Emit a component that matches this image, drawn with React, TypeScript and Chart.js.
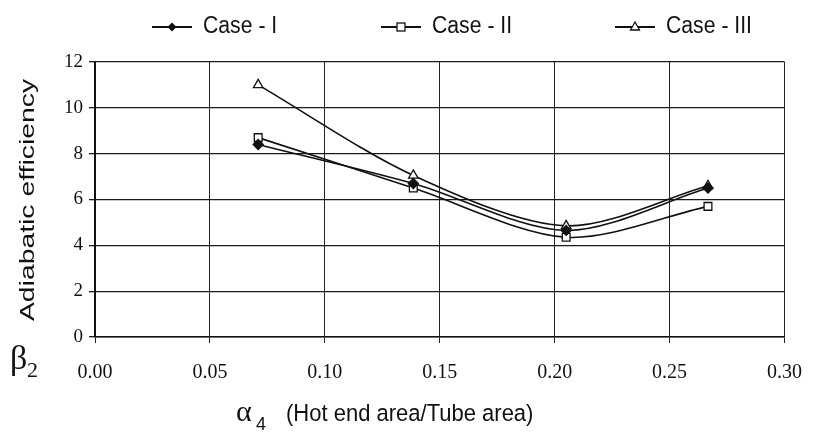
import React, { useEffect, useRef } from "react";
import { Chart, registerables } from "chart.js";

Chart.register(...registerables);

const alphaValues = [0.071, 0.1385, 0.205, 0.2667];
const caseI = [8.4, 6.7, 4.65, 6.5];
const caseII = [8.7, 6.5, 4.35, 5.7];
const caseIII = [11.0, 7.05, 4.85, 6.6];
const seriesNames = ["Case - I", "Case - II", "Case - III"];
const yTitle = "Adiabatic efficiency";
const xTitle = "(Hot end area/Tube area)";

const toPoints = (ys: number[]) => alphaValues.map((x, i) => ({ x, y: ys[i] }));

const decorPlugin = {
  id: "decor",
  afterDraw(chart: any) {
    const ctx = chart.ctx as CanvasRenderingContext2D;
    ctx.save();
    ctx.fillStyle = "#111";
    ctx.strokeStyle = "#111";
    // legend
    const legendX = [152, 381, 615];
    const ly = 27;
    chart.data.datasets.forEach((ds: any, i: number) => {
      const x0 = legendX[i];
      ctx.lineWidth = 1.8;
      ctx.beginPath();
      ctx.moveTo(x0, ly);
      ctx.lineTo(x0 + 40, ly);
      ctx.stroke();
      const cx = x0 + 20;
      ctx.lineWidth = 1.3;
      if (ds.pointStyle === "rectRot") {
        ctx.beginPath();
        ctx.moveTo(cx, ly - 4.5);
        ctx.lineTo(cx + 4.5, ly);
        ctx.lineTo(cx, ly + 4.5);
        ctx.lineTo(cx - 4.5, ly);
        ctx.closePath();
        ctx.fill();
      } else if (ds.pointStyle === "rect") {
        ctx.fillStyle = "#fff";
        ctx.fillRect(cx - 4, ly - 4, 8, 8);
        ctx.strokeRect(cx - 4, ly - 4, 8, 8);
        ctx.fillStyle = "#111";
      } else {
        ctx.fillStyle = "#fff";
        ctx.beginPath();
        ctx.moveTo(cx, ly - 5);
        ctx.lineTo(cx + 4.5, ly + 3);
        ctx.lineTo(cx - 4.5, ly + 3);
        ctx.closePath();
        ctx.fill();
        ctx.stroke();
        ctx.fillStyle = "#111";
      }
      ctx.font = "20px 'Liberation Sans', Arial, sans-serif";
      ctx.textBaseline = "middle";
      ctx.textAlign = "left";
      ctx.save();
      ctx.translate(x0 + 51, ly);
      ctx.scale(1.06, 1.15);
      ctx.fillText(ds.label, 0, 0);
      ctx.restore();
    });
    // y title
    ctx.save();
    ctx.translate(28, 200);
    ctx.rotate(-Math.PI / 2);
    ctx.scale(1.35, 1);
    ctx.font = "21px 'Liberation Sans', Arial, sans-serif";
    ctx.textAlign = "center";
    ctx.textBaseline = "middle";
    ctx.fillText(yTitle, 0, 0);
    ctx.restore();
    // beta_2
    ctx.textAlign = "left";
    ctx.textBaseline = "alphabetic";
    ctx.font = "34px 'Liberation Serif', 'Times New Roman', serif";
    ctx.fillText("β", 10, 369);
    ctx.font = "22px 'Liberation Serif', 'Times New Roman', serif";
    ctx.fillText("2", 27, 377);
    // alpha_4 and x title
    ctx.font = "30px 'Liberation Serif', 'Times New Roman', serif";
    ctx.fillText("α", 236, 421);
    ctx.font = "18px 'Liberation Sans', Arial, sans-serif";
    ctx.fillText("4", 256, 430);
    ctx.font = "22px 'Liberation Sans', Arial, sans-serif";
    ctx.save();
    ctx.translate(286, 421);
    ctx.scale(1.0, 1.08);
    ctx.fillText(xTitle, 0, 0);
    ctx.restore();
    ctx.restore();
  },
};

export default function App() {
  const ref = useRef<HTMLCanvasElement | null>(null);
  useEffect(() => {
    if (!ref.current) return;
    const common = {
      borderColor: "#111",
      borderWidth: 1.6,
      pointBorderColor: "#111",
      pointBorderWidth: 1.3,
      tension: 0.3,
      fill: false,
    };
    const chart = new Chart(ref.current, {
      type: "line",
      data: {
        datasets: [
          {
            ...common,
            label: seriesNames[0],
            data: toPoints(caseI),
            pointStyle: "rectRot",
            pointRadius: 5,
            pointBackgroundColor: "#111",
          },
          {
            ...common,
            label: seriesNames[1],
            data: toPoints(caseII),
            pointStyle: "rect",
            pointRadius: 5.5,
            pointBackgroundColor: "#fff",
          },
          {
            ...common,
            label: seriesNames[2],
            data: toPoints(caseIII),
            pointStyle: "triangle",
            pointRadius: 5.5,
            pointBackgroundColor: "#fff",
          },
        ],
      },
      options: {
        animation: false,
        responsive: true,
        maintainAspectRatio: false,
        layout: { padding: { left: 0, right: 23, top: 62, bottom: 0 } },
        plugins: {
          legend: { display: false },
          tooltip: { enabled: false },
        },
        scales: {
          x: {
            type: "linear",
            min: 0,
            max: 0.3,
            ticks: {
              stepSize: 0.05,
              color: "#111",
              padding: 18,
              font: { family: "'Liberation Serif', 'Times New Roman', serif", size: 20 },
              callback: (v: any) => Number(v).toFixed(2),
            },
            grid: { color: "#222", lineWidth: 1, tickLength: 6, drawTicks: true },
            border: { color: "#111", width: 1.5 },
            afterFit: (s: any) => {
              s.height = 99;
            },
          },
          y: {
            min: 0,
            max: 12,
            ticks: {
              stepSize: 2,
              color: "#111",
              padding: 6,
              font: { family: "'Liberation Serif', 'Times New Roman', serif", size: 19 },
            },
            grid: { color: "#1a1a1a", lineWidth: 1.3, tickLength: 6 },
            border: { color: "#111", width: 2 },
            afterFit: (s: any) => {
              s.width = 95;
            },
          },
        },
      },
      plugins: [decorPlugin],
    });
    return () => chart.destroy();
  }, []);
  return (
    <div style={{ position: "fixed", left: 0, top: 0, width: 820, height: 436, background: "#fff" }}>
      <canvas ref={ref} />
    </div>
  );
}
